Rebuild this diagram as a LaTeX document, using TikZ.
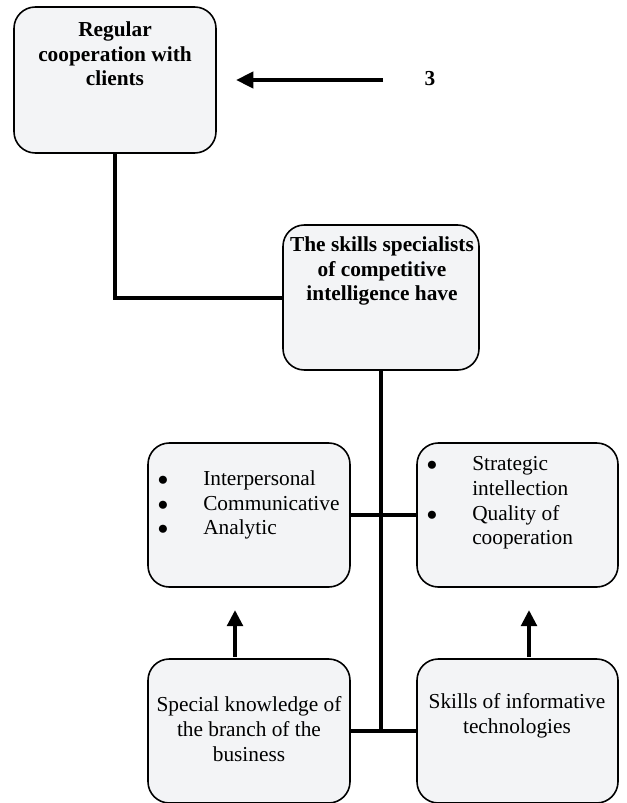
\documentclass[tikz,border=0pt]{standalone}
\usepackage{fontspec}
\setmainfont{Liberation Serif}
\usepackage{tikz}
\usetikzlibrary{arrows.meta,calc,positioning,shapes}
\tikzset{
  skillbox/.style = {draw=black, line width=1.2pt, fill=box_fill, rounded corners=16pt,
  minimum width=151.5pt, minimum height=108pt, inner sep=0pt},
  box_t/.style = {align=center, inner sep=0pt, black, font=\fontsize{16}{18.5}\selectfont},
  box_b/.style = {box_t, font=\fontsize{16}{18.5}\selectfont\bfseries},
  box_l/.style = {box_t, align=left}
}
\definecolor{box_fill}{RGB}{243,244,246}
\newcommand{\bul}{\makebox[34.5pt][l]{\raisebox{0pt}{\fontsize{14}{0}\selectfont ●}}}

\begin{document}
\begin{tikzpicture}[x=0.75pt,y=-0.75pt,
        	link/.style={line width=3pt},
        	up_arr/.style={line width=3pt, -{Triangle[length=12pt,width=11.5pt]}},
        	left_arr/.style={line width=3pt, -{Triangle[length=13pt,width=12pt]}}]
		    \useasboundingbox (0,0) rectangle (626,803);
		    % boxes
		    \node [skillbox, minimum height=109.5pt] (0TL) at (115,80) {};
		    \node [skillbox, minimum width=147pt, minimum height=108.75pt] (1C) at (381,297.5) {};
		    \node [skillbox] (2L) at (249,515) {};
		    \node [skillbox, minimum width=150.75pt] (2R) at (517.5,515) {};
		    \node [skillbox] (3L) at (249,731) {};
		    \node [skillbox, minimum width=150.75pt] (3R) at (517.5,731) {};
		    % texts
		    \node [box_b] (0TLt) at (115,54) {Regular\\cooperation with\\clients};
		    \node [box_b] (1Ct) at (382,271) {The skills specialists\\of competitive\\intelligence have};
		    \node [box_l, anchor=west] (2Lt) at (157,505) {\bul Interpersonal\\\bul Communicative\\\bul Analytic};
		    \node [box_l, anchor=west] (2Rt) at (426,503) {\bul Strategic\\\hspace*{34.5pt}intellection\\\bul Quality of\\\hspace*{34.5pt}cooperation};
		    \node [box_t] (3Lt) at (249,729) {Special knowledge of\\the branch of the\\business};
		    \node [box_t] (3Rt) at (517,716) {Skills of informative\\technologies};
		    \node [box_b] (num) at (430,79) {3};
		    % connectors
		    \draw [link] (0TL.south) |- (1C.west);
		    \draw [link] (1C.south) -- (1C.south |- 3L.east);
		    \draw [link] (2L.east) -- (2R.west);
		    \draw [link] (3L.east) -- (3R.west);
		    \coordinate (a0s) at (383,80);
		    \coordinate (a0e) at (236,80);
		    \coordinate (a1s) at (235,657);
		    \coordinate (a1e) at (235,610);
		    \coordinate (a2s) at (529,657);
		    \coordinate (a2e) at (529,610);
		    \draw [left_arr] (a0s) -- (a0e);
		    \draw [up_arr] (a1s) -- (a1e);
		    \draw [up_arr] (a2s) -- (a2e);
		\end{tikzpicture}
\end{document}
